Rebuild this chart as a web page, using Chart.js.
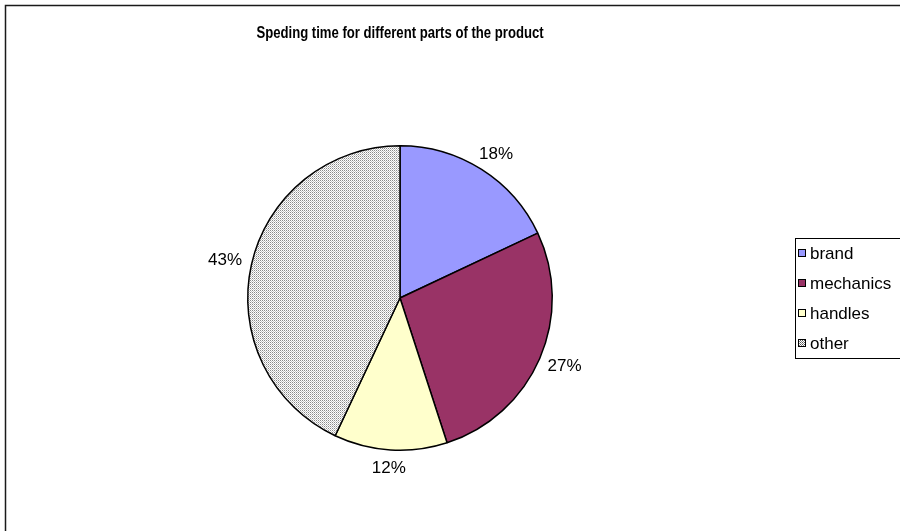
<!DOCTYPE html>
<html>
<head>
<meta charset="utf-8">
<title>Speding time for different parts of the product</title>
<script src="https://cdn.jsdelivr.net/npm/chart.js@4.4.1/dist/chart.umd.min.js"></script>
<style>
  html, body { margin: 0; padding: 0; background: #ffffff; }
  #wrap { width: 900px; height: 531px; position: relative; }
</style>
</head>
<body>
<div id="wrap"><canvas id="chart" width="900" height="531"></canvas></div>
<script>
// Time shares per product part (percent)
const categories = ['brand', 'mechanics', 'handles', 'other'];
const shares = [18, 27, 12, 43];
const chartTitle = 'Speding time for different parts of the product';

const FONT = '"Liberation Sans", Arial, Helvetica, sans-serif';

// Dotted grey fill used for the "other" part
function makeDotPattern(dark) {
  const c = document.createElement('canvas');
  c.width = 4; c.height = 4;
  const g = c.getContext('2d');
  g.fillStyle = '#ffffff';
  g.fillRect(0, 0, 4, 4);
  g.fillStyle = dark ? '#555555' : '#8a8a8a';
  g.fillRect(0, 0, 1, 1); g.fillRect(2, 0, 1, 1);
  g.fillRect(0, 2, 1, 1); g.fillRect(2, 2, 1, 1);
  g.fillStyle = dark ? '#888888' : '#c4c4c4';
  g.fillRect(1, 1, 1, 1); g.fillRect(3, 1, 1, 1);
  g.fillRect(1, 3, 1, 1); g.fillRect(3, 3, 1, 1);
  return c;
}

const ctx0 = document.getElementById('chart').getContext('2d');
const otherFill = ctx0.createPattern(makeDotPattern(false), 'repeat');
const otherSwatch = ctx0.createPattern(makeDotPattern(true), 'repeat');
const sliceColors = ['#9999ff', '#993366', '#ffffcc', otherFill];
const swatchColors = ['#9999ff', '#993366', '#ffffcc', otherSwatch];

// Outer frame, title and legend box
const framePlugin = {
  id: 'frame',
  afterDraw(chart) {
    const g = chart.ctx;
    g.save();
    g.strokeStyle = '#1a1a1a';
    g.lineWidth = 1.5;
    g.beginPath();
    g.moveTo(5.5, 531);
    g.lineTo(5.5, 5.5);
    g.lineTo(900, 5.5);
    g.stroke();

    // condensed bold title
    g.save();
    g.translate(400, 34);
    g.scale(0.82, 1);
    g.fillStyle = '#000';
    g.font = 'bold 16px ' + FONT;
    g.textAlign = 'center';
    g.textBaseline = 'middle';
    g.fillText(chartTitle, 0, 0);
    g.restore();

    // legend
    g.lineWidth = 1;
    g.strokeStyle = '#000';
    g.strokeRect(795.5, 238.5, 130, 120);
    g.font = '17px ' + FONT;
    g.textAlign = 'left';
    g.textBaseline = 'middle';
    categories.forEach((name, i) => {
      const y = 253 + i * 30;
      g.fillStyle = swatchColors[i];
      g.fillRect(798, y - 4, 8, 8);
      g.strokeStyle = '#000';
      g.strokeRect(798.5, y - 3.5, 7, 7);
      g.fillStyle = '#000';
      g.fillText(name, 810, y + 1);
    });
    g.restore();
  }
};

// Percentage labels just outside each slice
const pctLabels = {
  id: 'pctLabels',
  afterDatasetsDraw(chart) {
    const g = chart.ctx;
    const meta = chart.getDatasetMeta(0);
    const data = chart.data.datasets[0].data;
    const total = data.reduce((a, b) => a + b, 0);
    g.save();
    g.font = '17px ' + FONT;
    g.fillStyle = '#000';
    g.textAlign = 'center';
    g.textBaseline = 'middle';
    meta.data.forEach((arc, i) => {
      const p = arc.getProps(['x', 'y', 'startAngle', 'endAngle', 'outerRadius'], true);
      const mid = (p.startAngle + p.endAngle) / 2;
      const text = Math.round(data[i] / total * 100) + '%';
      const w = g.measureText(text).width;
      const h = 17;
      const d = p.outerRadius + 10;
      const cx = p.x + Math.cos(mid) * d + Math.cos(mid) * w / 2;
      const cy = p.y + Math.sin(mid) * d + Math.sin(mid) * h / 2;
      g.fillText(text, cx, cy);
    });
    g.restore();
  }
};

new Chart(ctx0, {
  type: 'pie',
  data: {
    labels: categories,
    datasets: [{
      data: shares,
      backgroundColor: sliceColors,
      borderColor: '#000000',
      borderWidth: 1.5,
      hoverOffset: 0
    }]
  },
  options: {
    responsive: false,
    animation: false,
    layout: { padding: { top: 145, bottom: 80, left: 240, right: 340 } },
    plugins: {
      legend: { display: false },
      title: { display: false },
      tooltip: { enabled: false }
    }
  },
  plugins: [framePlugin, pctLabels]
});
</script>
</body>
</html>
